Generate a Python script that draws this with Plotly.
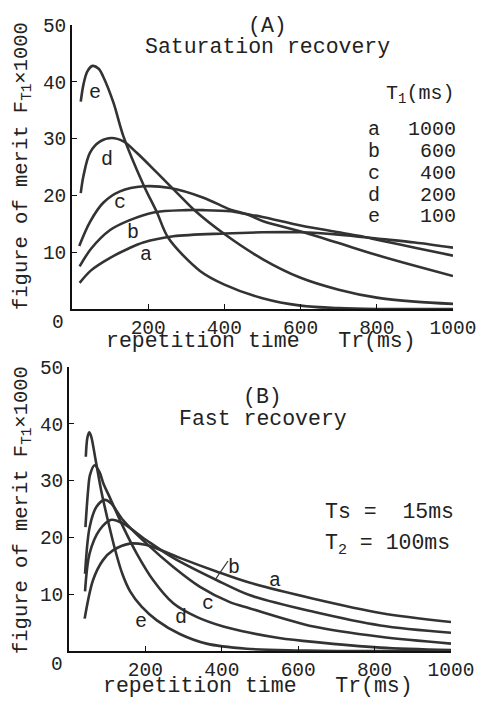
import plotly.graph_objects as go

# page body has an 8px margin; lay everything out in reference-pixel coordinates
OFF = 8
W, H = 486 - 2 * OFF, 708 - 2 * OFF

# ---------- Data: (A) Saturation recovery ----------
sr_a_x = [20, 50, 100, 150, 187, 266, 400, 500, 600, 700, 775, 800, 900, 1000]
sr_a_y = [4.6, 6.8, 9.0, 10.7, 11.7, 12.8, 13.3, 13.5, 13.5, 13.1, 12.6, 12.4, 11.7, 10.8]
sr_b_x = [20, 50, 100, 150, 214, 300, 345, 416, 458, 500, 600, 700, 775, 800, 900, 1000]
sr_b_y = [7.5, 10.6, 13.9, 15.6, 17.0, 17.4, 17.4, 17.2, 16.7, 16.2, 14.7, 13.5, 12.6, 12.2, 10.8, 9.4]
sr_c_x = [19, 47, 82, 126, 188, 258, 345, 416, 458, 500, 608, 700, 800, 900, 1000]
sr_c_y = [11.1, 15.3, 18.7, 20.7, 21.6, 21.3, 19.6, 17.5, 16.7, 15.5, 13.5, 11.6, 9.5, 7.6, 5.8]
sr_d_x = [23, 30, 47, 74, 104, 135, 170, 223, 275, 323, 400, 500, 600, 700, 800, 900, 1000]
sr_d_y = [20.4, 23.4, 27.5, 29.5, 30.1, 29.5, 27.5, 24.0, 20.5, 17.3, 13.2, 8.8, 5.5, 3.4, 2.0, 1.3, 0.9]
sr_e_x = [23, 30, 40, 54, 70, 82, 109, 135, 188, 223, 253, 336, 400, 500, 600, 700, 800, 1000]
sr_e_y = [36.5, 39.5, 41.8, 42.8, 42.3, 40.9, 36.3, 30.4, 21.8, 17.0, 12.5, 6.7, 4.3, 1.9, 0.6, 0.15, 0.0, 0.0]

# ---------- Data: (B) Fast recovery ----------
fr_a_x = [41, 63, 89, 115, 159, 200, 220, 290, 386, 474, 640, 815, 1000]
fr_a_y = [5.7, 12.5, 16.0, 17.7, 18.9, 18.7, 18.3, 16.4, 14.0, 12.0, 9.2, 6.7, 5.1]
fr_b_x = [42, 54, 80, 111, 140, 203, 273, 386, 474, 640, 815, 1000]
fr_b_y = [10.5, 17.2, 21.3, 23.1, 22.5, 19.5, 16.4, 12.5, 9.8, 6.9, 4.5, 3.2]
fr_c_x = [42, 54, 72, 94, 110, 142, 203, 273, 343, 421, 474, 640, 815, 1000]
fr_c_y = [13.6, 21.8, 25.4, 26.6, 26.0, 23.0, 18.9, 14.8, 11.3, 8.6, 7.5, 4.3, 2.5, 1.3]
fr_d_x = [43, 50, 55, 67, 80, 90, 107, 142, 177, 220, 273, 334, 404, 474, 550, 640, 815, 1000]
fr_d_y = [21.8, 28.3, 31.0, 32.7, 31.5, 29.5, 27.0, 21.8, 17.2, 12.5, 8.4, 6.0, 4.3, 3.2, 2.3, 1.6, 0.6, 0.15]
fr_e_x = [44, 48, 53, 58, 70, 85, 100, 120, 140, 160, 190, 230, 290, 360, 465, 600, 700, 1000]
fr_e_y = [34.2, 37.5, 38.5, 37.8, 33.5, 28.0, 23.5, 18.0, 13.5, 10.5, 7.8, 5.4, 3.0, 1.3, 0.4, 0.1, 0.0, 0.0]

x_ticks = [200, 400, 600, 800, 1000]
y_ticks = [10, 20, 30, 40, 50]
t1_labels = ["a", "b", "c", "d", "e"]
t1_values = ["1000", "600", "400", "200", "100"]

FONT = "Liberation Mono, DejaVu Sans Mono, monospace"
LINE = "#333333"
TXT = "#222222"

def px(x):
    return (x - OFF) / W

def py(y):
    return 1 - (y - OFF) / H

fig = go.Figure()
top = [(sr_a_x, sr_a_y), (sr_b_x, sr_b_y), (sr_c_x, sr_c_y), (sr_d_x, sr_d_y), (sr_e_x, sr_e_y)]
bot = [(fr_a_x, fr_a_y), (fr_b_x, fr_b_y), (fr_c_x, fr_c_y), (fr_d_x, fr_d_y), (fr_e_x, fr_e_y)]
for xs, ys in top:
    fig.add_trace(go.Scatter(x=xs, y=ys, mode="lines", xaxis="x", yaxis="y",
                             line=dict(color=LINE, width=2.6, shape="spline", smoothing=0.9),
                             showlegend=False, hoverinfo="skip"))
for xs, ys in bot:
    fig.add_trace(go.Scatter(x=xs, y=ys, mode="lines", xaxis="x2", yaxis="y2",
                             line=dict(color=LINE, width=2.6, shape="spline", smoothing=0.9),
                             showlegend=False, hoverinfo="skip"))

ax_common = dict(showline=True, linecolor="#111", linewidth=1.6, ticks="inside", ticklen=5,
                 tickcolor="#111", tickwidth=1.2, showgrid=False, zeroline=False, automargin=False,
                 tickfont=dict(family=FONT, size=19.5, color=TXT), fixedrange=True)

fig.update_layout(
    width=W, height=H, margin=dict(l=0, r=0, t=0, b=0, autoexpand=False),
    paper_bgcolor="white", plot_bgcolor="white", showlegend=False,
    xaxis=dict(domain=[px(72), px(453)], range=[0, 1000], tickvals=x_ticks, anchor="y", **ax_common),
    yaxis=dict(domain=[py(309), py(25)], range=[0, 50], tickvals=y_ticks, anchor="x", **ax_common),
    xaxis2=dict(domain=[px(69), px(451)], range=[0, 1000], tickvals=x_ticks, anchor="y2", **ax_common),
    yaxis2=dict(domain=[py(651), py(367)], range=[0, 50], tickvals=y_ticks, anchor="x2", **ax_common),
)

anns = []
def txt(x, y, s, size=21.5, xanchor="center", yanchor="middle", angle=0):
    anns.append(dict(x=px(x), y=py(y), xref="paper", yref="paper", text=s, showarrow=False,
                     xanchor=xanchor, yanchor=yanchor, textangle=angle,
                     font=dict(family=FONT, size=size, color=TXT)))

NB = "\u00a0"
# Panel A text
txt(267, 26, "(A)")
txt(267, 47, "Saturation recovery")
txt(456, 95, "T<sub>1</sub>(ms)", xanchor="right", size=20)
for i, (lab, val) in enumerate(zip(t1_labels, t1_values)):
    yy = 130 + i * 21.7
    txt(374, yy, lab, size=20)
    txt(458, yy, val, xanchor="right", size=20)
txt(95, 93, "e", size=20)
txt(107, 159, "d", size=20)
txt(120, 203, "c", size=20)
txt(133, 232, "b", size=20)
txt(146, 255, "a", size=20)
txt(58, 323, "0", size=19.5)
txt(261, 341, "repetition time" + NB * 3 + "Tr(ms)")
txt(23, 166, "figure of merit F<sub>T1</sub>×1000", size=20.5, angle=-90)

# Panel B text
txt(263, 397, "(B)")
txt(263, 419, "Fast recovery")
txt(323, 512, "Ts =" + NB * 2 + "15ms", xanchor="left")
txt(323, 545, "T<sub>2</sub> = 100ms", xanchor="left")
txt(234, 567, "b", size=20)
txt(275, 580, "a", size=20)
txt(208, 603, "c", size=20)
txt(181, 617, "d", size=20)
txt(141, 621, "e", size=20)
txt(57, 665, "0", size=19.5)
txt(258, 700, "repetition time" + NB * 3 + "Tr(ms)", yanchor="bottom")
txt(22, 510, "figure of merit F<sub>T1</sub>×1000", size=20.5, angle=-90)

fig.update_layout(annotations=anns)
# leader line for label b in panel B
fig.add_shape(type="line", xref="paper", yref="paper", x0=px(215), y0=py(580), x1=px(228), y1=py(561),
              line=dict(color=LINE, width=1.3))

fig.write_html("out.html")
